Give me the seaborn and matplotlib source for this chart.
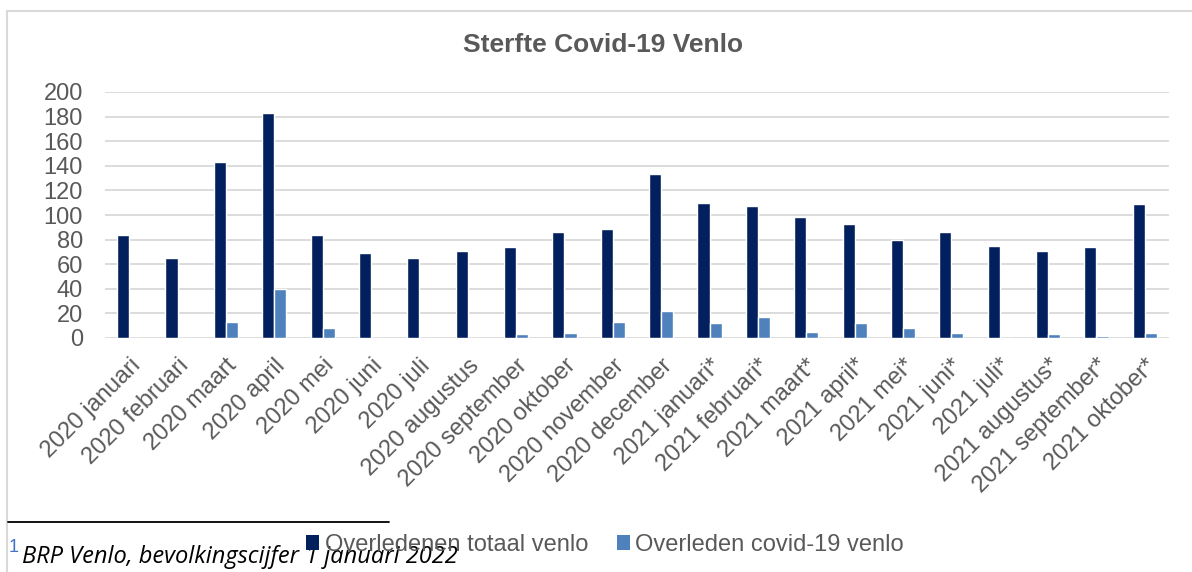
import numpy as np
import pandas as pd
import matplotlib
matplotlib.use('Agg')
import matplotlib.pyplot as plt
import seaborn as sns
from matplotlib.lines import Line2D
from matplotlib.patches import Patch

# Maanden en waarden
maanden = ['2020 januari', '2020 februari', '2020 maart', '2020 april', '2020 mei',
           '2020 juni', '2020 juli', '2020 augustus', '2020 september', '2020 oktober',
           '2020 november', '2020 december', '2021 januari*', '2021 februari*',
           '2021 maart*', '2021 april*', '2021 mei*', '2021 juni*', '2021 juli*',
           '2021 augustus*', '2021 september*', '2021 oktober*']
totaal = [84, 65, 143, 183, 84, 69, 65, 71, 74, 86, 89, 133,
          110, 107, 98, 93, 80, 86, 75, 71, 74, 109]
covid = [0, 0, 13, 40, 8, 0.4, 0, 0, 3, 4, 13, 22,
         12, 17, 5, 12, 8, 4, 0, 3, 2, 4]
reeksen = ['Overledenen totaal venlo', 'Overleden covid-19 venlo']
kleuren = ['#03205E', '#4F81BD']

df = pd.DataFrame({
    'maand': maanden * 2,
    'aantal': totaal + covid,
    'reeks': [reeksen[0]] * len(maanden) + [reeksen[1]] * len(maanden),
})

sns.set_style('white')
plt.rcParams['font.family'] = ['Liberation Sans', 'DejaVu Sans']

W, H = 1192, 572
fig = plt.figure(figsize=(W / 100, H / 100), dpi=100)
ax = fig.add_axes([105 / W, 1 - 338 / H, 1064 / W, 246 / H])

sns.barplot(data=df, x='maand', y='aantal', hue='reeks', palette=kleuren,
            width=0.5, gap=0, saturation=1, legend=False, ax=ax)

grijs = '#595959'
ax.set_ylim(0, 200)
ax.set_yticks(np.arange(0, 201, 20))
ax.set_xlim(-0.5, len(maanden) - 0.5)
ax.set_xlabel('')
ax.set_ylabel('')
ax.yaxis.grid(True, color='#D9D9D9', linewidth=1.3)
ax.set_axisbelow(True)
for s in ax.spines.values():
    s.set_visible(False)
ax.tick_params(axis='y', length=0, pad=16, labelsize=17, labelcolor=grijs)
ax.tick_params(axis='x', length=0, pad=12, labelsize=17, labelcolor=grijs)
plt.setp(ax.get_xticklabels(), rotation=45, ha='right', va='top', rotation_mode='anchor')

fig.text(603 / W, 1 - 45 / H, 'Sterfte Covid-19 Venlo', ha='center', va='center',
         fontsize=19, fontweight='bold', color=grijs)

# Kader van de grafiek
fig.add_artist(Line2D([7 / W, 7 / W], [0, 1 - 11 / H], color='#D9D9D9', linewidth=1.5))
fig.add_artist(Line2D([7 / W, 1], [1 - 11 / H, 1 - 11 / H], color='#D9D9D9', linewidth=1.5))

# Legenda
handles = [Patch(facecolor=k, edgecolor='none') for k in kleuren]
fig.legend(handles, reeksen, loc='center', bbox_to_anchor=(605 / W, 1 - 545 / H),
           ncol=2, frameon=False, fontsize=17, handlelength=0.55, handleheight=0.6,
           handletextpad=0.25, columnspacing=1.2, borderpad=0, labelcolor=grijs)

# Voetnoot
fig.add_artist(Line2D([8 / W, 389 / W], [1 - 522 / H, 1 - 522 / H], color='black', linewidth=1.3))
fig.text(9 / W, 1 - 548 / H, '1', fontsize=13, color='#4472C4', va='center')
fig.text(22 / W, 1 - 563 / H, 'BRP Venlo, bevolkingscijfer 1 januari 2022', fontsize=17,
         style='italic', family=['Open Sans', 'DejaVu Sans'], color='black', va='baseline')

fig.savefig('out.png', dpi=100)
